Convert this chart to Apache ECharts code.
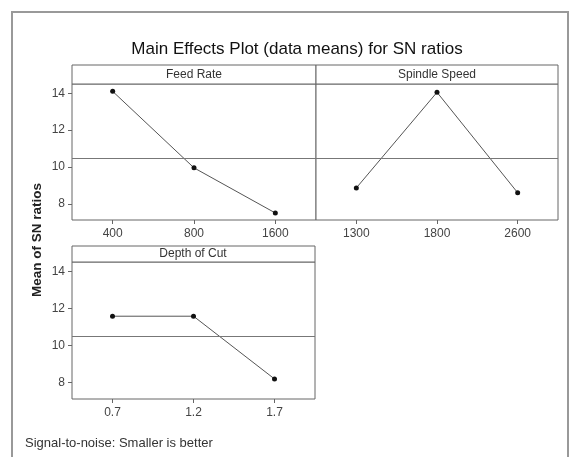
<!DOCTYPE html>
<html>
<head>
<meta charset="utf-8">
<script src="https://cdn.jsdelivr.net/npm/echarts@6/dist/echarts.min.js"></script>
<style>html,body{margin:0;padding:0;background:#fff}#c{width:572px;height:457px}</style>
</head>
<body>
<div id="c"></div>
<script>
const titleText = 'Main Effects Plot (data means) for SN ratios';
const yAxisName = 'Mean of SN ratios';
const footText = 'Signal-to-noise: Smaller is better';
const factorNames = ['Feed Rate', 'Spindle Speed', 'Depth of Cut'];
const feedRateLevels = ['400', '800', '1600'];
const feedRateMeans = [14.1, 9.95, 7.5];
const spindleLevels = ['1300', '1800', '2600'];
const spindleMeans = [8.86, 14.05, 8.6];
const depthLevels = ['0.7', '1.2', '1.7'];
const depthMeans = [11.58, 11.58, 8.2];
const grandMean = 10.49;
const yTicks = [8, 10, 12, 14];

const chart = echarts.init(document.getElementById('c'));
const FONT = 'Liberation Sans';
const grids = [
  {left: 72, top: 84, width: 244, height: 136},
  {left: 316, top: 84, width: 242, height: 136},
  {left: 72, top: 262, width: 243, height: 137}
];
const levels = [feedRateLevels, spindleLevels, depthLevels];
const means = [feedRateMeans, spindleMeans, depthMeans];

const option = {
  backgroundColor: '#fff',
  animation: false,
  grid: grids.map(g => Object.assign({show: true, borderColor: '#666', borderWidth: 1, backgroundColor: '#fff', containLabel: false}, g)),
  xAxis: levels.map((lv, i) => ({
    type: 'category', gridIndex: i, data: lv, boundaryGap: true,
    axisLine: {show: false},
    axisTick: {show: true, alignWithLabel: true, length: 4, inside: false, lineStyle: {color: '#666'}},
    axisLabel: {color: '#444', fontFamily: FONT, fontSize: 12, margin: 8},
    splitLine: {show: false}
  })),
  yAxis: levels.map((lv, i) => ({
    type: 'value', gridIndex: i, min: 7.12, max: 14.5,
    axisLine: {show: false},
    axisTick: {show: i !== 1, length: 4, lineStyle: {color: '#666'}, customValues: yTicks},
    axisLabel: {show: i !== 1, color: '#444', fontFamily: FONT, fontSize: 12, margin: 7, customValues: yTicks},
    splitLine: {show: false}
  })),
  series: means.map((m, i) => ({
    type: 'line', xAxisIndex: i, yAxisIndex: i, data: m,
    symbol: 'circle', symbolSize: 5,
    itemStyle: {color: '#111'},
    lineStyle: {color: '#555', width: 1},
    markLine: {
      silent: true, symbol: 'none', label: {show: false},
      lineStyle: {color: '#777', width: 1.2, type: 'solid'},
      data: [{yAxis: grandMean}]
    }
  })),
  graphic: [
    {type: 'rect', shape: {x: 12, y: 12, width: 556, height: 447}, style: {fill: 'none', stroke: '#999', lineWidth: 2}, z: 0},
    {type: 'text', x: 297, y: 49, style: {text: titleText, font: '17px ' + FONT, fill: '#111', textAlign: 'center', textVerticalAlign: 'middle'}},
    {type: 'rect', shape: {x: 72, y: 65, width: 244, height: 19}, style: {fill: '#fff', stroke: '#666', lineWidth: 1}},
    {type: 'rect', shape: {x: 316, y: 65, width: 242, height: 19}, style: {fill: '#fff', stroke: '#666', lineWidth: 1}},
    {type: 'rect', shape: {x: 72, y: 246, width: 243, height: 16}, style: {fill: '#fff', stroke: '#666', lineWidth: 1}},
    {type: 'text', x: 194, y: 75, style: {text: factorNames[0], font: '12px ' + FONT, fill: '#333', textAlign: 'center', textVerticalAlign: 'middle'}},
    {type: 'text', x: 437, y: 75, style: {text: factorNames[1], font: '12px ' + FONT, fill: '#333', textAlign: 'center', textVerticalAlign: 'middle'}},
    {type: 'text', x: 193, y: 254, style: {text: factorNames[2], font: '12px ' + FONT, fill: '#333', textAlign: 'center', textVerticalAlign: 'middle'}},
    {type: 'text', x: 37, y: 240, rotation: Math.PI / 2, style: {text: yAxisName, font: 'bold 13.5px ' + FONT, fill: '#222', textAlign: 'center', textVerticalAlign: 'middle'}},
    {type: 'text', x: 25, y: 443, style: {text: footText, font: '13px ' + FONT, fill: '#333', textAlign: 'left', textVerticalAlign: 'middle'}}
  ]
};
chart.setOption(option);
</script>
</body>
</html>
